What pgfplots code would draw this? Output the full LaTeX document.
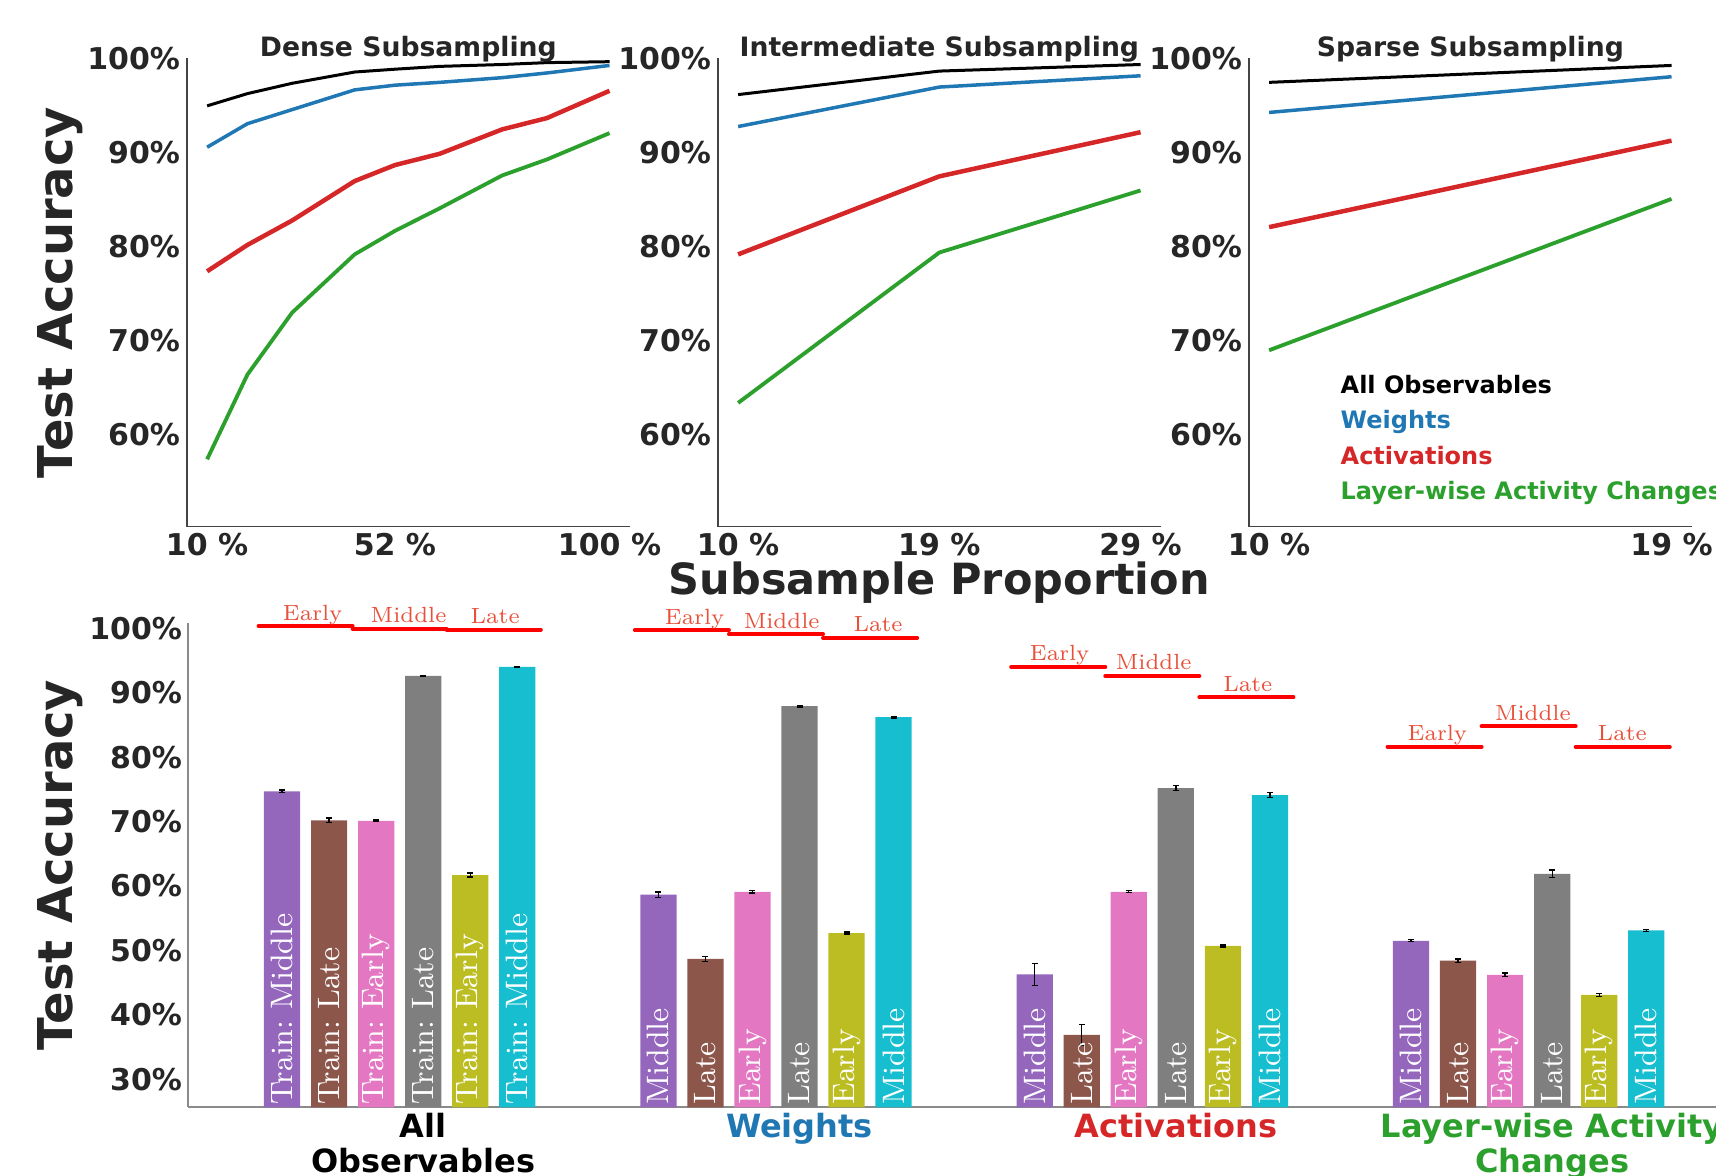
\documentclass[border=0pt]{standalone}
\usepackage{pgfplots}
\pgfplotsset{compat=1.18}
\usepackage{fontspec}
\newfontfamily\dejavu{DejaVu Sans}
\frenchspacing
\definecolor{darktext}{HTML}{262626}
\definecolor{tabblue}{HTML}{1F77B4}
\definecolor{tabred}{HTML}{D62728}
\definecolor{tabgreen}{HTML}{2CA02C}
\definecolor{tabpurple}{HTML}{9467BD}
\definecolor{tabbrown}{HTML}{8C564B}
\definecolor{tabpink}{HTML}{E377C2}
\definecolor{tabgray}{HTML}{7F7F7F}
\definecolor{tabolive}{HTML}{BCBD22}
\definecolor{tabcyan}{HTML}{17BECF}
\definecolor{annot}{RGB}{232,80,58}
\definecolor{annline}{RGB}{255,0,0}
\definecolor{topaxis}{HTML}{444444}
\definecolor{botaxis}{HTML}{8A8A8A}
\newcommand{\tickfont}{\dejavu\bfseries\fontsize{9}{10.8}\selectfont}
\newcommand{\barfont}{\rmfamily\fontsize{9.3}{11}\selectfont}
\newcommand{\annfont}{\rmfamily\fontsize{6.6}{7.9}\selectfont}
\pgfplotsset{
  topstyle/.style={
    scale only axis, width=132.8pt, height=140.58pt, anchor=south west,
    axis lines*=left, axis line style={topaxis, line width=0.35pt},
    ymin=50.22, ymax=100.07,
    major tick length=0pt,
    ytick={60,70,80,90,100}, yticklabels={60\%,70\%,80\%,90\%,100\%},
    yticklabel style={font=\tickfont, text=darktext, inner sep=0pt, xshift=-1.9pt},
    xticklabel style={font=\tickfont, text=darktext, inner sep=0pt, yshift=-1.7pt},
    title style={font=\dejavu\bfseries\fontsize{8}{9.6}\selectfont, text=darktext,
      at={(rel axis cs:0.5,1)}, anchor=center, yshift=-3.3pt},
    clip=false,
  },
  blk/.style={black, line width=0.9pt, line join=round},
  blu/.style={tabblue, line width=1.05pt, line join=round},
  rd/.style={tabred, line width=1.35pt, line join=round},
  grn/.style={tabgreen, line width=1.15pt, line join=round},
  barst/.style={ybar, bar width=0.77, bar shift=0pt, draw=none, fill=#1,
    error bars/.cd, y dir=both, y explicit,
    error bar style={black, line width=0.4pt},
    error mark options={black, rotate=90, mark size=0.9pt, line width=0.4pt}},
  ann/.style={annline, line width=1.2pt, line cap=round, forget plot},
}
\begin{document}
\begin{tikzpicture}
\useasboundingbox (0pt,0pt) rectangle (514.8pt,-352.8pt);

% ---------------- Dense ----------------
\begin{axis}[topstyle, at={(56.1pt,-158.04pt)},
  xmin=5.5, xmax=104.5, xtick={10,52,100}, xticklabels={10 \%,52 \%,100 \%},
  title={Dense Subsampling},
  ylabel={Test Accuracy},
  ylabel style={font=\dejavu\bfseries\fontsize{14.4}{17}\selectfont, text=darktext,
    at={(rel axis cs:-0.287,0.5)}, anchor=center}]
\addplot[grn] coordinates {(10,57.4) (19,66.4) (29,73.0) (43,79.2) (52,81.7) (62,84.1) (76,87.6) (86,89.3) (100,92.1)};
\addplot[rd] coordinates {(10,77.4) (19,80.2) (29,82.8) (43,87.0) (52,88.7) (62,89.9) (76,92.5) (86,93.7) (100,96.6)};
\addplot[blu] coordinates {(10,90.6) (19,93.1) (29,94.6) (43,96.7) (52,97.2) (62,97.5) (76,98.0) (86,98.5) (100,99.3)};
\addplot[blk] coordinates {(10,95.0) (19,96.3) (29,97.4) (43,98.6) (52,98.9) (62,99.2) (76,99.4) (86,99.6) (100,99.7)};
\end{axis}

% ---------------- Intermediate ----------------
\begin{axis}[topstyle, at={(215.4pt,-158.04pt)},
  xmin=9.05, xmax=29.95, xtick={10,19.5,29}, xticklabels={10 \%,19 \%,29 \%},
  title={Intermediate Subsampling},
  xlabel={Subsample Proportion},
  xlabel style={font=\dejavu\bfseries\fontsize{12.9}{15}\selectfont, text=darktext,
    at={(rel axis cs:0.5,-0.12)}, anchor=center}]
\addplot[grn] coordinates {(10,63.4) (19.5,79.4) (29,86.0)};
\addplot[rd] coordinates {(10,79.2) (19.5,87.5) (29,92.2)};
\addplot[blu] coordinates {(10,92.8) (19.5,97.0) (29,98.2)};
\addplot[blk] coordinates {(10,96.2) (19.5,98.7) (29,99.4)};
\end{axis}

% ---------------- Sparse ----------------
\begin{axis}[topstyle, at={(374.7pt,-158.04pt)},
  xmin=9.55, xmax=19.45, xtick={10,19}, xticklabels={10 \%,19 \%},
  title={Sparse Subsampling}]
\addplot[grn] coordinates {(10,69.0) (19,85.1)};
\addplot[rd] coordinates {(10,82.1) (19,91.3)};
\addplot[blu] coordinates {(10,94.3) (19,98.1)};
\addplot[blk] coordinates {(10,97.5) (19,99.3)};
\node[anchor=base west, inner sep=0pt, font=\dejavu\bfseries\fontsize{7.2}{8.6}\selectfont, text=black] at (rel axis cs:0.2056,0.2843) {All Observables};
\node[anchor=base west, inner sep=0pt, font=\dejavu\bfseries\fontsize{7.2}{8.6}\selectfont, text=tabblue] at (rel axis cs:0.2056,0.2096) {Weights};
\node[anchor=base west, inner sep=0pt, font=\dejavu\bfseries\fontsize{7.2}{8.6}\selectfont, text=tabred] at (rel axis cs:0.2056,0.1334) {Activations};
\node[anchor=base west, inner sep=0pt, font=\dejavu\bfseries\fontsize{7.2}{8.6}\selectfont, text=tabgreen] at (rel axis cs:0.2056,0.0572) {Layer-wise Activity Changes};
\end{axis}

% ---------------- Bars ----------------
\begin{axis}[scale only axis, width=465.7pt, height=145.2pt, anchor=south west,
  at={(56.4pt,-332.19pt)},
  xmin=-2, xmax=31, ymin=25.65, ymax=100.77,
  axis lines*=left, axis line style={botaxis, line width=0.55pt},
  major tick length=0pt,
  ytick={30,40,50,60,70,80,90,100},
  yticklabels={30\%,40\%,50\%,60\%,70\%,80\%,90\%,100\%},
  yticklabel style={font=\tickfont, text=darktext, inner sep=0pt, xshift=-1.6pt},
  xtick={3,11,19,27},
  xticklabels={{\textcolor{black}{All}\\\textcolor{black}{Observables}},
    {\textcolor{tabblue}{Weights}},
    {\textcolor{tabred}{Activations}},
    {\textcolor{tabgreen}{Layer-wise Activity}\\\textcolor{tabgreen}{Changes}}},
  xticklabel style={font=\dejavu\bfseries\fontsize{9.6}{10.5}\selectfont, align=center, inner sep=0pt, yshift=-1.7pt},
  clip mode=individual,
  ylabel={Test Accuracy},
  ylabel style={font=\dejavu\bfseries\fontsize{14.4}{17}\selectfont, text=darktext,
    at={(rel axis cs:-0.0825,0.5)}, anchor=center}]
\addplot[barst=tabpurple] coordinates {(0,74.7) +- (0,0.2) (8,58.65) +- (0,0.4) (16,46.3) +- (0,1.7) (24,51.5) +- (0,0.15)};
\addplot[barst=tabbrown] coordinates {(1,70.2) +- (0,0.33) (9,48.7) +- (0,0.4) (17,36.9) +- (0,1.6) (25,48.4) +- (0,0.25)};
\addplot[barst=tabpink] coordinates {(2,70.1) +- (0,0.12) (10,59.1) +- (0,0.2) (18,59.1) +- (0,0.15) (26,46.2) +- (0,0.3)};
\addplot[barst=tabgray] coordinates {(3,92.6) +- (0,0.12) (11,87.9) +- (0,0.12) (19,75.2) +- (0,0.36) (27,61.9) +- (0,0.6)};
\addplot[barst=tabolive] coordinates {(4,61.7) +- (0,0.3) (12,52.7) +- (0,0.15) (20,50.7) +- (0,0.15) (28,43.1) +- (0,0.25)};
\addplot[barst=tabcyan] coordinates {(5,94.0) +- (0,0.1) (13,86.2) +- (0,0.12) (21,74.1) +- (0,0.36) (29,53.1) +- (0,0.15)};

% annotation lines
\addplot[ann] coordinates {(-0.5,100.35) (1.5,100.35)};
\addplot[ann] coordinates {(1.5,99.94) (3.5,99.94)};
\addplot[ann] coordinates {(3.5,99.78) (5.5,99.78)};
\addplot[ann] coordinates {(7.5,99.7) (9.5,99.7)};
\addplot[ann] coordinates {(9.5,99.1) (11.5,99.1)};
\addplot[ann] coordinates {(11.5,98.5) (13.5,98.5)};
\addplot[ann] coordinates {(15.5,94.0) (17.5,94.0)};
\addplot[ann] coordinates {(17.5,92.6) (19.5,92.6)};
\addplot[ann] coordinates {(19.5,89.3) (21.5,89.3)};
\addplot[ann] coordinates {(23.5,81.6) (25.5,81.6)};
\addplot[ann] coordinates {(25.5,84.8) (27.5,84.8)};
\addplot[ann] coordinates {(27.5,81.6) (29.5,81.6)};

\begin{scope}[every node/.style={anchor=base, inner sep=0pt, text=annot, font=\annfont, yshift=1.8pt}]
\node at (axis cs:0.65,100.35) {Early};
\node at (axis cs:2.69,99.94) {Middle};
\node at (axis cs:4.53,99.78) {Late};
\node at (axis cs:8.77,99.7) {Early};
\node at (axis cs:10.62,99.1) {Middle};
\node at (axis cs:12.67,98.5) {Late};
\node at (axis cs:16.53,94.0) {Early};
\node at (axis cs:18.53,92.6) {Middle};
\node at (axis cs:20.53,89.3) {Late};
\node at (axis cs:24.56,81.6) {Early};
\node at (axis cs:26.59,84.8) {Middle};
\node at (axis cs:28.49,81.6) {Late};
\end{scope}

\begin{scope}[every node/.style={rotate=90, anchor=west, inner xsep=0.6pt, inner ysep=0pt, text=white, font=\barfont}]
\node at (axis cs:0,25.65) {Train: Middle};
\node at (axis cs:1,25.65) {Train: Late};
\node at (axis cs:2,25.65) {Train: Early};
\node at (axis cs:3,25.65) {Train: Late};
\node at (axis cs:4,25.65) {Train: Early};
\node at (axis cs:5,25.65) {Train: Middle};
\node at (axis cs:8,25.65) {Middle};
\node at (axis cs:9,25.65) {Late};
\node at (axis cs:10,25.65) {Early};
\node at (axis cs:11,25.65) {Late};
\node at (axis cs:12,25.65) {Early};
\node at (axis cs:13,25.65) {Middle};
\node at (axis cs:16,25.65) {Middle};
\node at (axis cs:17,25.65) {Late};
\node at (axis cs:18,25.65) {Early};
\node at (axis cs:19,25.65) {Late};
\node at (axis cs:20,25.65) {Early};
\node at (axis cs:21,25.65) {Middle};
\node at (axis cs:24,25.65) {Middle};
\node at (axis cs:25,25.65) {Late};
\node at (axis cs:26,25.65) {Early};
\node at (axis cs:27,25.65) {Late};
\node at (axis cs:28,25.65) {Early};
\node at (axis cs:29,25.65) {Middle};
\end{scope}
\end{axis}
\end{tikzpicture}
\end{document}
